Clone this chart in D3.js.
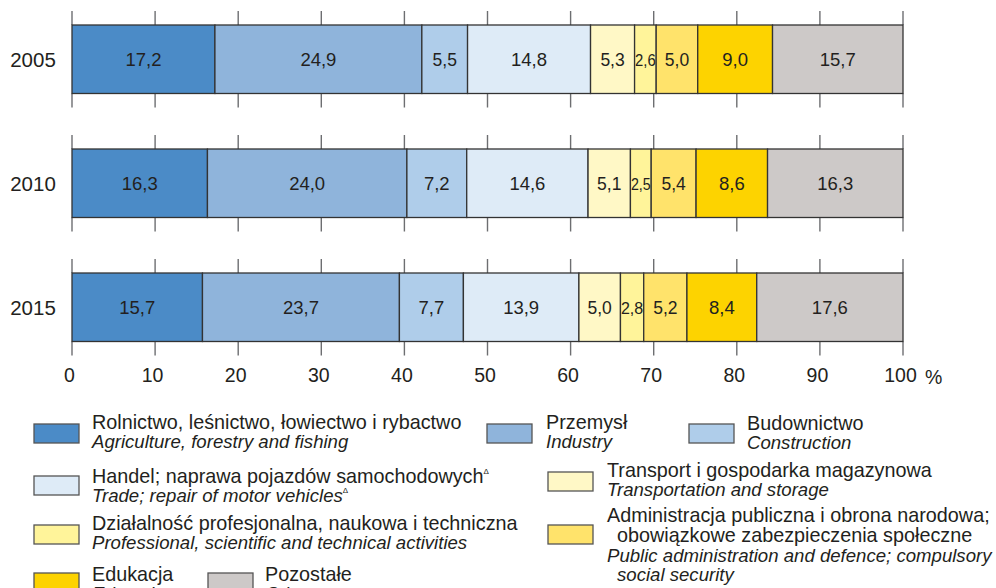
<!DOCTYPE html>
<html>
<head>
<meta charset="utf-8">
<script src="https://cdn.jsdelivr.net/npm/d3@7"></script>
<style>
  body { margin: 0; background: #fff; }
  svg text { font-family: "Liberation Sans", Arial, sans-serif; fill: #231f20; }
</style>
</head>
<body>
<div id="chart"></div>
<script>
// data
var years = ["2005", "2010", "2015"];
var sectorsPl = [
  "Rolnictwo, leśnictwo, łowiectwo i rybactwo",
  "Przemysł",
  "Budownictwo",
  "Handel; naprawa pojazdów samochodowych",
  "Transport i gospodarka magazynowa",
  "Działalność profesjonalna, naukowa i techniczna",
  "Administracja publiczna i obrona narodowa;",
  "Edukacja",
  "Pozostałe"
];
var sectorsEn = [
  "Agriculture, forestry and fishing",
  "Industry",
  "Construction",
  "Trade; repair of motor vehicles",
  "Transportation and storage",
  "Professional, scientific and technical activities",
  "Public administration and defence; compulsory",
  "Education",
  "Other"
];
var values2005 = [17.2, 24.9, 5.5, 14.8, 5.3, 2.6, 5.0, 9.0, 15.7];
var values2010 = [16.3, 24.0, 7.2, 14.6, 5.1, 2.5, 5.4, 8.6, 16.3];
var values2015 = [15.7, 23.7, 7.7, 13.9, 5.0, 2.8, 5.2, 8.4, 17.6];
var tickValues = [0, 10, 20, 30, 40, 50, 60, 70, 80, 90, 100];

var colors = ["#4b8bc7", "#8fb4db", "#afcdea", "#deebf7", "#fff8c6",
              "#fff49a", "#ffe36b", "#fdd300", "#cdc9c8"];

var svgWidth = 996, svgHeight = 588;

var svg = d3.select("#chart").append("svg")
  .attr("width", svgWidth)
  .attr("height", svgHeight);

var xScale = d3.scaleLinear().domain([0, 100]).range([72, 903]);
var yScale = d3.scaleBand().domain(years).range([25, 341.5]).paddingInner(0.4476);

var allValues = [values2005, values2010, values2015];
var rows = years.map(function(y, i) {
  var acc = 0;
  return allValues[i].map(function(v, j) {
    var seg = { year: y, idx: j, v: v, x0: acc, x1: acc + v };
    acc += v;
    return seg;
  });
});

var fmt = function(v) { return v.toFixed(1).replace(".", ","); };

// tick segments around each bar
var tickG = svg.append("g");
years.forEach(function(y) {
  var top = yScale(y), bot = top + yScale.bandwidth();
  tickValues.forEach(function(t) {
    tickG.append("line")
      .attr("x1", xScale(t)).attr("x2", xScale(t))
      .attr("y1", top - 14).attr("y2", top)
      .attr("stroke", "#6d6e71").attr("stroke-width", 1.4);
    tickG.append("line")
      .attr("x1", xScale(t)).attr("x2", xScale(t))
      .attr("y1", bot).attr("y2", bot + 14)
      .attr("stroke", "#6d6e71").attr("stroke-width", 1.4);
  });
});

// bars
rows.forEach(function(row) {
  var g = svg.append("g");
  g.selectAll("rect")
    .data(row)
    .enter()
    .append("rect")
    .attr("x", function(d) { return xScale(d.x0); })
    .attr("y", function(d) { return yScale(d.year); })
    .attr("width", function(d) { return xScale(d.x1) - xScale(d.x0); })
    .attr("height", yScale.bandwidth())
    .attr("fill", function(d) { return colors[d.idx]; })
    .attr("stroke", "#333")
    .attr("stroke-width", 1.3);

  g.selectAll("text")
    .data(row)
    .enter()
    .append("text")
    .attr("x", function(d) { return xScale((d.x0 + d.x1) / 2); })
    .attr("y", function(d) { return yScale(d.year) + yScale.bandwidth() / 2 + 6.5; })
    .attr("text-anchor", "middle")
    .style("font-size", function(d) {
      var w = xScale(d.x1) - xScale(d.x0);
      return w < 30 ? "17px" : (w < 50 ? "17.5px" : "18.5px");
    })
    .each(function(d) {
      var w = xScale(d.x1) - xScale(d.x0);
      if (w < 30) d3.select(this).attr("textLength", w - 1).attr("lengthAdjust", "spacingAndGlyphs");
    })
    .text(function(d) { return fmt(d.v); });
});

// year labels
svg.append("g").selectAll("text")
  .data(years)
  .enter()
  .append("text")
  .attr("x", 33)
  .attr("y", function(d) { return yScale(d) + yScale.bandwidth() / 2 + 7.5; })
  .attr("text-anchor", "middle")
  .style("font-size", "20.5px")
  .text(function(d) { return d; });

// x axis labels
var xAxis = d3.axisBottom(xScale).tickValues(tickValues).tickSize(0).tickPadding(0);
var axG = svg.append("g")
  .attr("transform", "translate(-3, 368)")
  .call(xAxis);
axG.select(".domain").remove();
axG.selectAll("text")
  .style("font-size", "19.5px")
  .style("font-family", "'Liberation Sans', Arial, sans-serif")
  .attr("fill", "#231f20");

svg.append("text")
  .attr("x", 925).attr("y", 384)
  .style("font-size", "19.5px")
  .text("%");

// legend
var legendLayout = [
  { sx: 34, sy: 424, tx: 92, y1: 429, y2: 448 },
  { sx: 487, sy: 424, tx: 546, y1: 429, y2: 448 },
  { sx: 689, sy: 424, tx: 747, y1: 430, y2: 449 },
  { sx: 34, sy: 476, tx: 92, y1: 483, y2: 502 },
  { sx: 548, sy: 472, tx: 607, y1: 477, y2: 496 },
  { sx: 34, sy: 525, tx: 92, y1: 530, y2: 549 },
  { sx: 548, sy: 525, tx: 607, y1: 522, y2: 562 },
  { sx: 34, sy: 573, tx: 92, y1: 581, y2: 600 },
  { sx: 208, sy: 573, tx: 265, y1: 581, y2: 600 }
];

var plSize = "19.8px", enSize = "18.6px";
var legend = svg.append("g");
legendLayout.forEach(function(p, i) {
  legend.append("rect")
    .attr("x", p.sx).attr("y", p.sy)
    .attr("width", 45).attr("height", 19)
    .attr("fill", colors[i])
    .attr("stroke", "#555")
    .attr("stroke-width", 1.3);

  var t1 = legend.append("text")
    .attr("x", p.tx).attr("y", p.y1)
    .style("font-size", plSize)
    .text(sectorsPl[i]);
  var t2 = legend.append("text")
    .attr("x", p.tx).attr("y", p.y2)
    .style("font-size", enSize)
    .style("font-style", "italic")
    .text(sectorsEn[i]);

  if (i === 3) {
    t1.append("tspan").attr("dy", -9).style("font-size", "8px").text("\u0394");
    t2.append("tspan").attr("dy", -9).style("font-size", "8px").style("font-style", "normal").text("\u0394");
  }
  if (i === 6) {
    legend.append("text")
      .attr("x", p.tx + 10).attr("y", p.y1 + 20)
      .style("font-size", plSize)
      .text("obowiązkowe zabezpieczenia społeczne");
    legend.append("text")
      .attr("x", p.tx + 10).attr("y", p.y2 + 19)
      .style("font-size", enSize)
      .style("font-style", "italic")
      .text("social security");
  }
});
</script>
</body>
</html>
